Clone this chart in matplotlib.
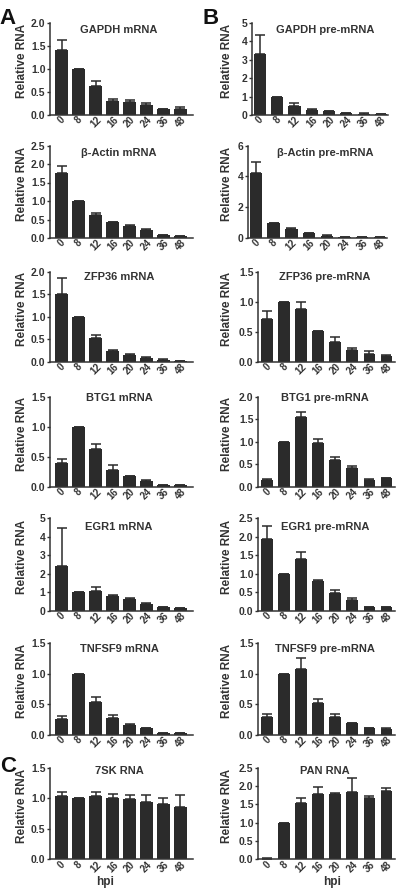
import matplotlib
matplotlib.use('Agg')
import matplotlib.pyplot as plt
import numpy as np

plt.rcParams['font.family'] = ['Liberation Sans', 'DejaVu Sans']
plt.rcParams['font.weight'] = 'bold'

# time points (hours post infection)
hpi = ['0', '8', '12', '16', '20', '24', '36', '48']

# relative RNA levels (mean) and upper error (SD)
gapdh_mrna = [1.40, 1.00, 0.62, 0.31, 0.28, 0.21, 0.12, 0.12]
gapdh_mrna_err = [0.23, 0.0, 0.11, 0.04, 0.05, 0.05, 0.01, 0.05]
gapdh_pre = [3.30, 1.00, 0.50, 0.28, 0.20, 0.12, 0.08, 0.07]
gapdh_pre_err = [1.02, 0.0, 0.15, 0.03, 0.03, 0.01, 0.01, 0.01]

actin_mrna = [1.76, 1.00, 0.63, 0.42, 0.33, 0.22, 0.08, 0.05]
actin_mrna_err = [0.18, 0.0, 0.04, 0.01, 0.03, 0.02, 0.01, 0.0]
actin_pre = [4.22, 1.00, 0.58, 0.30, 0.16, 0.08, 0.04, 0.04]
actin_pre_err = [0.68, 0.0, 0.04, 0.02, 0.01, 0.01, 0.0, 0.0]

zfp36_mrna = [1.50, 1.00, 0.54, 0.24, 0.15, 0.09, 0.05, 0.03]
zfp36_mrna_err = [0.36, 0.0, 0.06, 0.02, 0.03, 0.01, 0.01, 0.0]
zfp36_pre = [0.72, 1.00, 0.88, 0.51, 0.33, 0.20, 0.13, 0.10]
zfp36_pre_err = [0.12, 0.0, 0.11, 0.0, 0.09, 0.03, 0.06, 0.02]

btg1_mrna = [0.40, 1.00, 0.63, 0.29, 0.18, 0.10, 0.04, 0.03]
btg1_mrna_err = [0.07, 0.0, 0.09, 0.07, 0.01, 0.01, 0.0, 0.0]
btg1_pre = [0.15, 1.00, 1.55, 0.97, 0.60, 0.41, 0.16, 0.19]
btg1_pre_err = [0.03, 0.0, 0.12, 0.09, 0.06, 0.05, 0.02, 0.02]

egr1_mrna = [2.40, 1.00, 1.10, 0.80, 0.65, 0.40, 0.20, 0.14]
egr1_mrna_err = [2.06, 0.0, 0.17, 0.07, 0.06, 0.03, 0.01, 0.01]
egr1_pre = [1.93, 1.00, 1.41, 0.80, 0.49, 0.30, 0.11, 0.10]
egr1_pre_err = [0.35, 0.0, 0.17, 0.03, 0.08, 0.05, 0.01, 0.01]

tnfsf9_mrna = [0.26, 1.00, 0.54, 0.27, 0.16, 0.11, 0.04, 0.03]
tnfsf9_mrna_err = [0.05, 0.0, 0.08, 0.06, 0.02, 0.01, 0.0, 0.0]
tnfsf9_pre = [0.29, 1.00, 1.08, 0.52, 0.30, 0.19, 0.11, 0.10]
tnfsf9_pre_err = [0.05, 0.0, 0.18, 0.07, 0.05, 0.01, 0.01, 0.01]

rna_7sk = [1.04, 1.00, 1.03, 1.00, 0.98, 0.94, 0.90, 0.85]
rna_7sk_err = [0.07, 0.0, 0.07, 0.07, 0.08, 0.12, 0.10, 0.20]
pan_rna = [0.02, 1.00, 1.55, 1.79, 1.79, 1.85, 1.67, 1.87]
pan_rna_err = [0.01, 0.0, 0.11, 0.19, 0.01, 0.37, 0.06, 0.07]

W, H = 408, 892
fig = plt.figure(figsize=(W / 100, H / 100), dpi=100)

ink = '#333333'
bar_color = '#2b2b2b'

# panel rows in pixels (top of y axis, bottom of y axis, title drop)
row_top = [22.7, 145.5, 271.7, 396.7, 518, 643, 767.7]
row_bot = [115, 238, 362, 487, 611, 735, 859.3]
title_drop = [7, 8, 5, 1.5, 8.5, 6, 3.5]

panels = [
    (0, 0, 'GAPDH mRNA', gapdh_mrna, gapdh_mrna_err, 2.0, 0.5),
    (0, 1, 'GAPDH pre-mRNA', gapdh_pre, gapdh_pre_err, 5, 1),
    (1, 0, 'β-Actin mRNA', actin_mrna, actin_mrna_err, 2.5, 0.5),
    (1, 1, 'β-Actin pre-mRNA', actin_pre, actin_pre_err, 6, 2),
    (2, 0, 'ZFP36 mRNA', zfp36_mrna, zfp36_mrna_err, 2.0, 0.5),
    (2, 1, 'ZFP36 pre-mRNA', zfp36_pre, zfp36_pre_err, 1.5, 0.5),
    (3, 0, 'BTG1 mRNA', btg1_mrna, btg1_mrna_err, 1.5, 0.5),
    (3, 1, 'BTG1 pre-mRNA', btg1_pre, btg1_pre_err, 2.0, 0.5),
    (4, 0, 'EGR1 mRNA', egr1_mrna, egr1_mrna_err, 5, 1),
    (4, 1, 'EGR1 pre-mRNA', egr1_pre, egr1_pre_err, 2.5, 0.5),
    (5, 0, 'TNFSF9 mRNA', tnfsf9_mrna, tnfsf9_mrna_err, 1.5, 0.5),
    (5, 1, 'TNFSF9 pre-mRNA', tnfsf9_pre, tnfsf9_pre_err, 1.5, 0.5),
    (6, 0, '7SK RNA', rna_7sk, rna_7sk_err, 1.5, 0.5),
    (6, 1, 'PAN RNA', pan_rna, pan_rna_err, 2.5, 0.5),
]


def draw_panel(row, col, title, vals, errs, ymax, step):
    if col == 0:
        x0, x1, xlim, bw, lab_x, tit_x = 50, 193, (-0.7, 7.75), 0.76, 22, 119
    else:
        x0, x1, xlim, bw, lab_x, tit_x = 258, 395, (-0.55, 7.5), 0.70, 227, 325
        if row == 0:
            x0, x1, xlim = 252, 388, (-0.45, 7.4)
        elif row == 1:
            x0, x1, xlim = 248, 387, (-0.45, 7.4)
    top, bot = row_top[row], row_bot[row]
    ax = fig.add_axes([x0 / W, 1 - bot / H, (x1 - x0) / W, (bot - top) / H])

    x = np.arange(len(hpi))
    ax.bar(x, vals, width=bw, color=bar_color, zorder=2)
    ax.errorbar(x, vals, yerr=[np.zeros(len(vals)), errs], fmt='none',
                ecolor=bar_color, elinewidth=1.1, capsize=3.5, capthick=1.1,
                zorder=1)

    ax.set_xlim(*xlim)
    ax.set_ylim(0, ymax)
    ticks = np.arange(0, ymax + step / 2, step)
    ax.set_yticks(ticks)
    if step < 1:
        ax.set_yticklabels(['%.1f' % t for t in ticks])
    else:
        ax.set_yticklabels(['%d' % t for t in ticks])
    ax.set_xticks(x)
    ax.set_xticklabels(hpi, rotation=45)

    for s in ['top', 'right']:
        ax.spines[s].set_visible(False)
    for s in ['left', 'bottom']:
        ax.spines[s].set_color(ink)
        ax.spines[s].set_linewidth(1.1)
    ax.tick_params(axis='y', direction='out', length=2.5, width=1.0,
                   pad=0.8, labelsize=7.5, colors=ink)
    ax.tick_params(axis='x', length=0, pad=0, labelsize=7, colors=ink)

    fig.text(tit_x / W, 1 - (top + title_drop[row]) / H, title,
             ha='center', va='center', fontsize=8, color=ink)
    mid = (top + bot) / 2 - 8
    fig.text(lab_x / W, 1 - mid / H, 'Relative RNA', rotation=90,
             ha='center', va='center', fontsize=8.5, color=ink)


for p in panels:
    draw_panel(*p)

# panel letters
for letter, px, py in [('A', 8, 18), ('B', 211, 19), ('C', 8, 767)]:
    fig.text(px / W, 1 - py / H, letter, ha='center', va='center',
             fontsize=16, color='#111111')

# x axis titles
fig.text(105 / W, 1 - 882 / H, 'hpi', ha='center', va='center',
         fontsize=8.5, color=ink)
fig.text(332 / W, 1 - 882 / H, 'hpi', ha='center', va='center',
         fontsize=8.5, color=ink)

fig.savefig('out.png', dpi=100, facecolor='white')
